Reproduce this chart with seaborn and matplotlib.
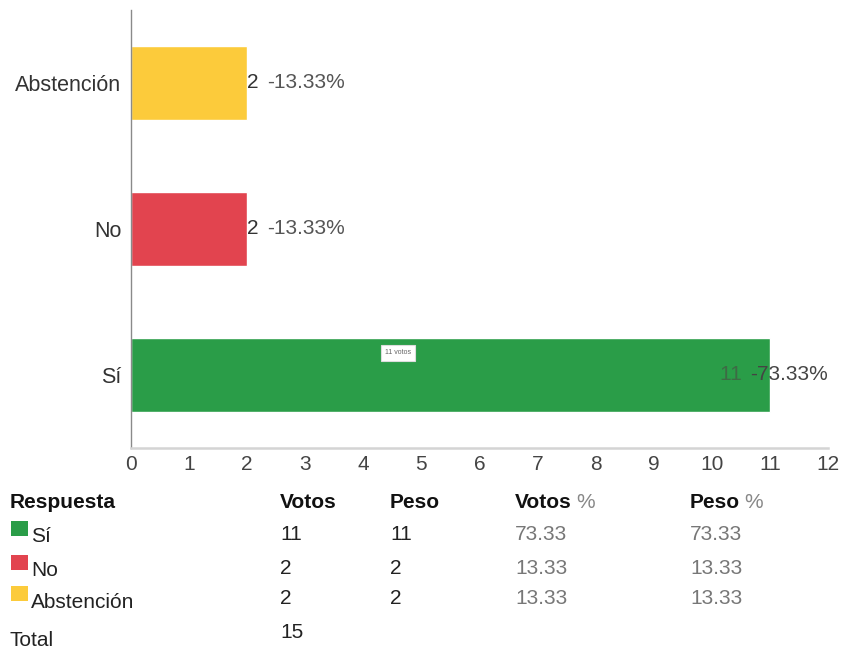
import matplotlib
matplotlib.use("Agg")
import matplotlib.pyplot as plt
import pandas as pd
import seaborn as sns
from matplotlib.patches import Rectangle

# data
respuestas = ['Sí', 'No', 'Abstención']
votos = [11, 2, 2]
peso = [11, 2, 2]
votos_pct = [73.33, 13.33, 13.33]
peso_pct = [73.33, 13.33, 13.33]
colores = ['#2a9d48', '#e2444f', '#fccb3b']
total = 15
xticks = list(range(0, 13))

sns.set_theme(style='white')
plt.rcParams['font.family'] = ['Liberation Sans', 'DejaVu Sans']

df = pd.DataFrame({'Respuesta': respuestas, 'Votos': votos})
orden = respuestas[::-1]
pal = dict(zip(respuestas, colores))

fig = plt.figure(figsize=(8.48, 6.51), dpi=100)
ax = fig.add_axes([0.1545, 0.312, 0.822, 0.673])

sns.barplot(data=df, x='Votos', y='Respuesta', hue='Respuesta', order=orden,
            palette=pal, width=0.51, saturation=1, legend=False, ax=ax)

ax.set_xlim(0, 12)
ax.set_ylim(2.5, -0.5)
ax.set_xticks(xticks)
ax.set_xlabel('')
ax.set_ylabel('')
ax.tick_params(axis='x', labelsize=15, labelcolor='#444444', length=0, pad=5)
ax.tick_params(axis='y', labelsize=15.5, labelcolor='#333333', length=3,
               color='#999999', pad=4)
for s in ['top', 'right']:
    ax.spines[s].set_visible(False)
ax.spines['left'].set_color('#8a8a8a')
ax.spines['left'].set_linewidth(1)
ax.spines['bottom'].set_color('#d4d4d4')
ax.spines['bottom'].set_linewidth(1.8)

# bar labels
for i, r in enumerate(orden):
    k = respuestas.index(r)
    v = votos[k]
    pct = votos_pct[k]
    if v > 10:
        t = ax.text(12, i, f'-{pct:.2f}%', ha='right', va='center',
                    fontsize=15, color='#444444')
        ax.annotate(f'{v} ', xy=(0, 0.5), xycoords=t, xytext=(-2, 0),
                    textcoords='offset points', ha='right', va='center',
                    fontsize=15, color='#3d6b45')
    else:
        t = ax.text(v, i, f'{v}', ha='left', va='center', fontsize=15,
                    color='#333333')
        ax.annotate(f'-{pct:.2f}%', xy=(1, 0.5), xycoords=t, xytext=(6, 0),
                    textcoords='offset points', ha='left', va='center',
                    fontsize=15, color='#555555')

# tooltip
k = respuestas.index('Sí')
ax.text(4.6, orden.index('Sí') - 0.15, f'{votos[k]} votos', ha='center', va='center',
        fontsize=5, color='#666666',
        bbox=dict(boxstyle='square,pad=0.6', fc='white', ec='#dddddd', lw=0.8))

# table below the chart
tax = fig.add_axes([0, 0, 1, 171 / 651])
tax.axis('off')
tax.set_xlim(0, 848)
tax.set_ylim(651, 480)

cols = [10, 280, 390, 515, 690]
fs = 15
hy = 503
tax.text(cols[0], hy, 'Respuesta', fontsize=fs, fontweight='bold', va='center', color='#111111')
tax.text(cols[1], hy, 'Votos', fontsize=fs, fontweight='bold', va='center', color='#111111')
tax.text(cols[2], hy, 'Peso', fontsize=fs, fontweight='bold', va='center', color='#111111')
for c, name in [(cols[3], 'Votos'), (cols[4], 'Peso')]:
    t = tax.text(c, hy, name, fontsize=fs, fontweight='bold', va='center', color='#111111')
    tax.annotate('%', xy=(1, 0.5), xycoords=t, xytext=(3, 0), textcoords='offset points',
                 fontsize=fs, va='center', color='#888888')

row_y = [537, 571, 602]
for k, r in enumerate(respuestas):
    y = row_y[k]
    tax.add_patch(Rectangle((11, y - 16), 17, 15, color=colores[k], lw=0))
    tax.text(31, y, r, fontsize=fs, va='center', color='#222222')
    tax.text(cols[1], y - 3, str(votos[k]), fontsize=fs, va='center', color='#222222')
    tax.text(cols[2], y - 3, str(peso[k]), fontsize=fs, va='center', color='#222222')
    tax.text(cols[3], y - 3, f'{votos_pct[k]:.2f}', fontsize=fs, va='center', color='#777777')
    tax.text(cols[4], y - 3, f'{peso_pct[k]:.2f}', fontsize=fs, va='center', color='#777777')

tax.text(cols[0], 641, 'Total', fontsize=fs, va='center', color='#222222')
tax.text(cols[1], 633, str(total), fontsize=fs, va='center', color='#222222')

fig.savefig('out.png', dpi=100, facecolor='white')
